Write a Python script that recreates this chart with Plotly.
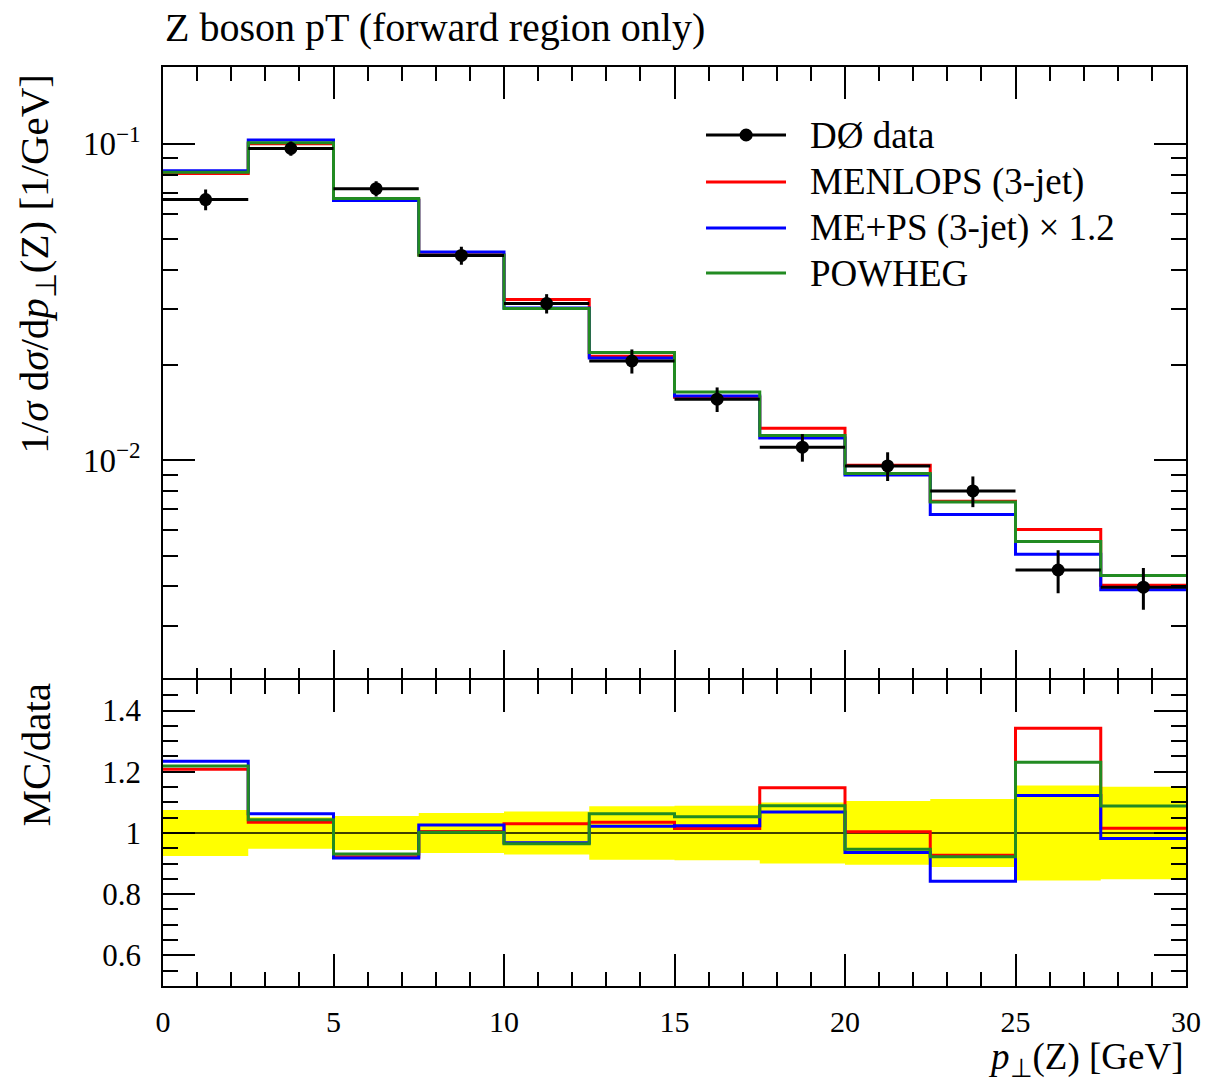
import plotly.graph_objects as go

# Bin edges of p_T(Z) [GeV]
bin_edges = [0, 2.5, 5, 7.5, 10, 12.5, 15, 17.5, 20, 22.5, 25, 27.5, 30]
bin_centres = [1.25, 3.75, 6.25, 8.75, 11.25, 13.75, 16.25, 18.75, 21.25, 23.75, 26.25, 28.75]
bin_halfwidth = [1.25] * 12

# D0 measurement, 1/sigma dsigma/dpT [1/GeV]
data_vals = [0.0667, 0.0967, 0.0722, 0.0444, 0.0313, 0.0206,
             0.0156, 0.0110, 0.0096, 0.0080, 0.0045, 0.00397]
data_errs = [0.0050, 0.0050, 0.0040, 0.0029, 0.0022, 0.0018,
             0.00139, 0.0011, 0.0010, 0.00089, 0.0007, 0.0006]

# Monte Carlo predictions
menlops = [0.08057, 0.10008, 0.06657, 0.04462, 0.03224, 0.02132,
           0.01583, 0.01263, 0.00964, 0.00742, 0.00604, 0.00403]
meps = [0.08231, 0.10279, 0.06628, 0.04555, 0.03030, 0.02105,
        0.01597, 0.01175, 0.00899, 0.00674, 0.00505, 0.00390]
powheg = [0.08131, 0.10086, 0.06722, 0.04449, 0.03020, 0.02190,
          0.01643, 0.01198, 0.00909, 0.00738, 0.00554, 0.00432]

series = [
    ("MENLOPS (3-jet)", menlops, "#ff0000"),
    ("ME+PS (3-jet) × 1.2", meps, "#0000ff"),
    ("POWHEG", powheg, "#228b22"),
]

FONT = "Liberation Serif"


def step_y(vals):
    return list(vals) + [vals[-1]]


fig = go.Figure()

# ---- upper panel: distributions ----
for name, vals, col in series:
    fig.add_trace(go.Scatter(
        x=bin_edges, y=step_y(vals), mode="lines", line_shape="hv",
        line=dict(color=col, width=3), name=name, showlegend=False,
        xaxis="x", yaxis="y"))

fig.add_trace(go.Scatter(
    x=bin_centres, y=data_vals, mode="markers", name="DØ data",
    marker=dict(color="black", size=13),
    error_y=dict(type="data", array=data_errs, color="black", thickness=3, width=0),
    error_x=dict(type="data", array=bin_halfwidth, color="black", thickness=3, width=0),
    showlegend=False, xaxis="x", yaxis="y"))

# ---- lower panel: MC / data ----
rel_err = [e / v for e, v in zip(data_errs, data_vals)]
band_lo = [1 - r for r in rel_err]
band_hi = [1 + r for r in rel_err]

fig.add_trace(go.Scatter(
    x=bin_edges, y=step_y(band_lo), mode="lines", line_shape="hv",
    line=dict(width=0, color="yellow"), showlegend=False, hoverinfo="skip",
    xaxis="x2", yaxis="y2"))
fig.add_trace(go.Scatter(
    x=bin_edges, y=step_y(band_hi), mode="lines", line_shape="hv",
    line=dict(width=0, color="yellow"), fill="tonexty", fillcolor="#ffff00",
    showlegend=False, hoverinfo="skip", xaxis="x2", yaxis="y2"))

fig.add_trace(go.Scatter(
    x=[bin_edges[0], bin_edges[-1]], y=[1, 1], mode="lines",
    line=dict(color="black", width=1.4), showlegend=False,
    xaxis="x2", yaxis="y2"))

for name, vals, col in series:
    ratio = [m / d for m, d in zip(vals, data_vals)]
    fig.add_trace(go.Scatter(
        x=bin_edges, y=step_y(ratio), mode="lines", line_shape="hv",
        line=dict(color=col, width=3), showlegend=False,
        xaxis="x2", yaxis="y2"))

# ---- axes ----
split = 0.333
common = dict(showline=True, linecolor="black", linewidth=1.5, mirror="ticks",
              ticks="inside", tickcolor="black", tickwidth=1.5, ticklen=32,
              showgrid=False, zeroline=False)

minor_x = dict(ticks="inside", dtick=1, ticklen=14, tickcolor="black", tickwidth=1.5)

log_minor = [m * 10 ** k for k in (-3, -2, -1) for m in range(2, 10)]

fig.update_layout(
    width=1230, height=1082,
    margin=dict(l=163, r=44, t=67, b=96),
    paper_bgcolor="white", plot_bgcolor="white",
    font=dict(family=FONT, color="black"),
    xaxis=dict(domain=[0, 1], anchor="y", range=[0, 30], dtick=5,
               showticklabels=False, minor=minor_x, **common),
    yaxis=dict(domain=[split - 0.0016, 1], anchor="x", type="log",
               range=[-2.699, -0.757],
               tickvals=[0.01, 0.1], ticktext=["10<sup>−2</sup>", "10<sup>−1</sup>"],
               ticklabelstandoff=14,
               tickfont=dict(family=FONT, size=33, color="black"),
               minor=dict(ticks="inside", tickvals=log_minor, ticklen=15,
                          tickcolor="black", tickwidth=1.5),
               **common),
    xaxis2=dict(domain=[0, 1], anchor="y2", range=[0, 30], dtick=5,
                matches="x", ticklabelstandoff=8,
                tickfont=dict(family=FONT, size=30, color="black"),
                minor=minor_x, **common),
    yaxis2=dict(domain=[0, split], anchor="x2", range=[0.5, 1.5],
                tickvals=[0.6, 0.8, 1.0, 1.2, 1.4],
                ticktext=["0.6", "0.8", "1", "1.2", "1.4"],
                ticklabelstandoff=14,
                tickfont=dict(family=FONT, size=31, color="black"),
                minor=dict(ticks="inside", dtick=0.05, ticklen=15,
                           tickcolor="black", tickwidth=1.5),
                **common),
)

# ---- titles ----
fig.add_annotation(text="Z boson pT (forward region only)", xref="paper", yref="paper",
                   x=0.0, y=1.0435, xanchor="left", yanchor="middle", showarrow=False,
                   font=dict(family=FONT, size=40, color="black"))
fig.add_annotation(text="1/<i>σ</i> d<i>σ</i>/d<i>p</i><sub>⊥</sub>(Z) [1/GeV]",
                   xref="paper", yref="paper", x=-0.124, y=0.995,
                   xanchor="center", yanchor="top", textangle=-90, showarrow=False,
                   font=dict(family=FONT, size=41, color="black"))
fig.add_annotation(text="MC/data", xref="paper", yref="paper", x=-0.124, y=split - 0.002,
                   xanchor="center", yanchor="top", textangle=-90, showarrow=False,
                   font=dict(family=FONT, size=41, color="black"))
fig.add_annotation(text="<i>p</i><sub>⊥</sub>(Z) [GeV]", xref="paper", yref="paper",
                   x=1.0, y=-0.0805, xanchor="right", yanchor="middle", showarrow=False,
                   font=dict(family=FONT, size=37, color="black"))

# ---- legend ----
legend_rows = [("DØ data", "black", True)] + [(n, c, False) for n, _, c in series]
legend_y = [0.926, 0.8749, 0.8248, 0.7758]
for (label, col, is_data), ly in zip(legend_rows, legend_y):
    fig.add_shape(type="line", xref="paper", yref="paper", x0=0.5308, x1=0.609,
                  y0=ly, y1=ly, line=dict(color=col, width=3))
    if is_data:
        fig.add_shape(type="circle", xref="paper", yref="paper",
                      x0=0.570 - 0.0064, x1=0.570 + 0.0064,
                      y0=ly - 0.0071, y1=ly + 0.0071,
                      fillcolor="black", line=dict(color="black", width=0))
    fig.add_annotation(text=label, xref="paper", yref="paper", x=0.6305, y=ly,
                       xanchor="left", yanchor="middle", showarrow=False,
                       font=dict(family=FONT, size=37, color="black"))

fig.write_html("out.html")
